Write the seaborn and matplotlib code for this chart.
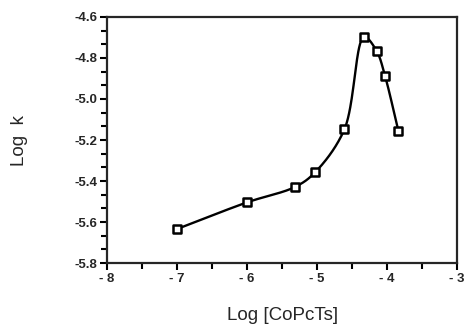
import numpy as np
import pandas as pd
import matplotlib
matplotlib.use("Agg")
import matplotlib.pyplot as plt
from matplotlib.ticker import MultipleLocator, AutoMinorLocator, FuncFormatter
import seaborn as sns

log_conc = [-7.0, -6.0, -5.31, -5.03, -4.61, -4.33, -4.15, -4.03, -3.84]
log_k = [-5.634, -5.504, -5.428, -5.358, -5.148, -4.698, -4.766, -4.888, -5.155]

x_ticks = [-8, -7, -6, -5, -4, -3]
y_ticks = [-5.8, -5.6, -5.4, -5.2, -5.0, -4.8, -4.6]


def smooth_curve(x, y, sx=70.0, sy=205.0, n=40, alpha=0.5):
    # centripetal catmull-rom through the points, worked out in a roughly
    # isotropic (screen-like) scale so the curve bends like a hand-drawn one
    P = np.column_stack([np.asarray(x, float) * sx, np.asarray(y, float) * sy])
    P = np.vstack([2 * P[0] - P[1], P, 2 * P[-1] - P[-2]])
    out = []
    for i in range(1, len(P) - 2):
        p0, p1, p2, p3 = P[i - 1], P[i], P[i + 1], P[i + 2]
        t0 = 0.0
        t1 = t0 + np.linalg.norm(p1 - p0) ** alpha
        t2 = t1 + np.linalg.norm(p2 - p1) ** alpha
        t3 = t2 + np.linalg.norm(p3 - p2) ** alpha
        t = np.linspace(t1, t2, n)[:, None]
        a1 = (t1 - t) / (t1 - t0) * p0 + (t - t0) / (t1 - t0) * p1
        a2 = (t2 - t) / (t2 - t1) * p1 + (t - t1) / (t2 - t1) * p2
        a3 = (t3 - t) / (t3 - t2) * p2 + (t - t2) / (t3 - t2) * p3
        b1 = (t2 - t) / (t2 - t0) * a1 + (t - t0) / (t2 - t0) * a2
        b2 = (t3 - t) / (t3 - t1) * a2 + (t - t1) / (t3 - t1) * a3
        c = (t2 - t) / (t2 - t1) * b1 + (t - t1) / (t2 - t1) * b2
        out.append(c)
    c = np.vstack(out)
    return c[:, 0] / sx, c[:, 1] / sy


sns.set_style("ticks")
plt.rcParams["font.family"] = ["Liberation Sans", "DejaVu Sans"]

fig = plt.figure(figsize=(4.67, 3.26), dpi=100)
ax = fig.add_axes([0.229, 0.193, 0.75, 0.755])

xs, ys = smooth_curve(log_conc, log_k)
sns.lineplot(x=xs, y=ys, color="black", linewidth=1.7, ax=ax, sort=False)
pts = pd.DataFrame({"x": log_conc, "y": log_k})
sns.scatterplot(data=pts, x="x", y="y", marker="s", s=34, color="white",
                edgecolor="black", linewidth=1.8, zorder=3, ax=ax)

ax.set_xlim(-8, -3)
ax.set_ylim(-5.8, -4.6)
ax.set_xticks(x_ticks)
ax.set_yticks(y_ticks)
ax.xaxis.set_minor_locator(MultipleLocator(0.5))
ax.yaxis.set_minor_locator(AutoMinorLocator(3))
ax.xaxis.set_major_formatter(FuncFormatter(lambda v, p: f"- {abs(int(round(v)))}"))
ax.yaxis.set_major_formatter(FuncFormatter(lambda v, p: f"{v:.1f}"))
ax.tick_params(which="both", direction="out", width=1.5, color="black",
               labelsize=9.5, pad=2)
ax.tick_params(which="major", length=5)
ax.tick_params(which="minor", length=4)
for lab in ax.get_xticklabels() + ax.get_yticklabels():
    lab.set_fontweight("bold")
for s in ax.spines.values():
    s.set_linewidth(1.6)
    s.set_visible(True)

ax.set_xlabel("Log [CoPcTs]", fontsize=13.5)
ax.set_ylabel("Log  k", fontsize=13.5)
ax.xaxis.set_label_coords(0.5, -0.18)
ax.yaxis.set_label_coords(-0.225, 0.5)

fig.savefig("out.png", dpi=100)
